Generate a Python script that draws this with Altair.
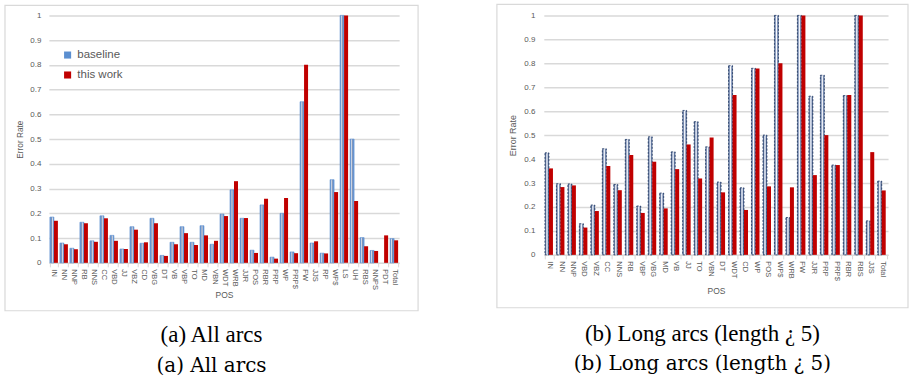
import altair as alt
import pandas as pd

SERIES = ["baseline", "this work"]

cats_a = ["IN", "NN", "NNP", "RB", "NNS", "CC", "VBD", "JJ", "VBZ", "CD", "VBG", "DT",
          "VB", "VBP", "TO", "MD", "VBN", "WDT", "WRB", "JJR", "POS", "RBR", "PRP", "WP",
          "PRP$", "FW", "JJS", "RP", "WP$", "LS", "UH", "RBS", "NNPS", "PDT", "EX", "Total"]
base_a = [0.185, 0.08, 0.059, 0.164, 0.089, 0.19, 0.111, 0.056, 0.146, 0.079, 0.18, 0.03,
          0.083, 0.146, 0.083, 0.15, 0.075, 0.197, 0.295, 0.18, 0.051, 0.234, 0.023, 0.2,
          0.044, 0.651, 0.08, 0.039, 0.336, 1.0, 0.5, 0.102, 0.05, 0.0, 0.0, 0.098]
work_a = [0.17, 0.075, 0.055, 0.16, 0.085, 0.18, 0.089, 0.056, 0.134, 0.083, 0.16, 0.028,
          0.075, 0.12, 0.072, 0.111, 0.089, 0.189, 0.33, 0.181, 0.04, 0.259, 0.017, 0.262,
          0.039, 0.8, 0.087, 0.038, 0.286, 1.0, 0.25, 0.067, 0.048, 0.111, 0.0, 0.091]

cats_b = ["IN", "NN", "NNP", "VBD", "VBZ", "CC", "NNS", "RB", "VBP", "VBG", "MD", "VB",
          "JJ", "TO", "VBN", "DT", "WDT", "CD", "WP", "POS", "WP$", "WRB", "FW", "JJR",
          "PRP", "PRP$", "RBR", "RBS", "JJS", "RP", "NNPS", "UH", "Total"]
base_b = [0.426, 0.297, 0.296, 0.13, 0.208, 0.443, 0.294, 0.482, 0.204, 0.493, 0.258, 0.43,
          0.603, 0.556, 0.451, 0.304, 0.79, 0.28, 0.779, 0.5, 1.0, 0.156, 1.0, 0.6625,
          0.75, 0.375, 0.665, 1.0, 0.142, 0.0, 0.0, 0.0, 0.308]
work_b = [0.361, 0.283, 0.29, 0.114, 0.183, 0.371, 0.27, 0.417, 0.175, 0.389, 0.194, 0.358,
          0.461, 0.319, 0.49, 0.261, 0.667, 0.1875, 0.778, 0.286, 0.8, 0.282, 1.0, 0.333,
          0.5, 0.375, 0.667, 1.0, 0.429, 0.0, 0.0, 0.0, 0.269]

y_ticks = [0, 0.1, 0.2, 0.3, 0.4, 0.5, 0.6, 0.7, 0.8, 0.9, 1.0]

captions_a = ["(a) All arcs", "(a) All arcs"]
captions_b = ["(b) Long arcs (length \u00bf 5)", "(b) Long arcs (length \u00bf 5)"]

GRAY = "#595959"
AXFONT = "Liberation Sans"
RED = "#c00000"


def stops(spec):
    return [alt.GradientStop(color=c, offset=o) for o, c in spec]


grad_a = alt.Gradient(
    gradient="linear", x1=0, x2=1, y1=0, y2=0,
    stops=stops([(0, "#5b8fd0"), (0.2, "#6f9bd6"), (0.32, "#ffffff"), (0.45, "#2a4f8f"),
                 (0.55, "#2a4f8f"), (0.68, "#ffffff"), (0.8, "#6f9bd6"), (1, "#5b8fd0")]))

grad_b = alt.Gradient(
    gradient="linear", x1=0, x2=1, y1=0, y2=0,
    stops=stops([(0, "#1f3864"), (0.25, "#8a9cc0"), (0.5, "#ffffff"), (0.75, "#8a9cc0"),
                 (1, "#1f3864")]))


def panel(cats, base, work, W, H, box, leg, base_mark, leg_base_color, caps, cap_xy,
          title_y, lab_pad, ytitle_pad, ytitle_size, lab_size):
    n = len(cats)
    df = pd.DataFrame({"POS": cats * 2,
                       "series": [SERIES[0]] * n + [SERIES[1]] * n,
                       "value": base + work})
    x = alt.X("POS:N", sort=cats, title="POS",
              scale=alt.Scale(paddingInner=0.2, paddingOuter=0.1),
              axis=alt.Axis(labelAngle=90, labelAlign="left", labelBaseline="middle",
                            labelFont=AXFONT, labelFontSize=lab_size, labelColor=GRAY,
                            labelPadding=2, domainColor="#d9d9d9", domainWidth=1,
                            tickColor="#d9d9d9", tickSize=4, tickBand="extent",
                            titleFont=AXFONT, titleFontSize=8.5, titleColor=GRAY,
                            titleFontWeight="normal", titleY=title_y,
                            titleBaseline="middle"))
    xo = alt.XOffset("series:N", scale=alt.Scale(domain=SERIES))
    y = alt.Y("value:Q", scale=alt.Scale(domain=[0, 1]), title="Error Rate",
              axis=alt.Axis(values=y_ticks, format="~g", domain=False, ticks=False,
                            gridColor="#d9d9d9", gridWidth=1.5,
                            labelFont=AXFONT, labelFontSize=8, labelColor=GRAY,
                            labelPadding=lab_pad, titleFont=AXFONT,
                            titleFontSize=ytitle_size, titleColor=GRAY,
                            titleFontWeight="normal", titlePadding=ytitle_pad))
    base_layer = alt.Chart(df).transform_filter(
        "datum.series == 'baseline' && datum.value > 0"
    ).mark_bar(**base_mark).encode(x=x, xOffset=xo, y=y)
    work_layer = alt.Chart(df).transform_filter(
        "datum.series == 'this work' && datum.value > 0"
    ).mark_bar().encode(
        x=x, xOffset=xo, y=y,
        color=alt.Color("series:N",
                        scale=alt.Scale(domain=SERIES, range=[leg_base_color, RED]),
                        legend=alt.Legend(orient="none", legendX=leg[0], legendY=leg[1],
                                          title=None, labelFont=AXFONT,
                                          labelFontSize=leg[3], labelColor=GRAY,
                                          symbolType="square", symbolSize=50,
                                          symbolStrokeWidth=0, rowPadding=leg[2],
                                          padding=0, labelOffset=4)))
    box_layer = alt.Chart(alt.Data(values=[{}])).mark_rect(
        filled=False, stroke="#d9d9d9", strokeWidth=1.2
    ).encode(x=alt.value(box[0]), x2=alt.value(box[1]),
             y=alt.value(box[2]), y2=alt.value(box[3]))
    cap1 = alt.Chart(alt.Data(values=[{}])).mark_text(
        font="Liberation Serif", fontSize=23, color="black", baseline="middle"
    ).encode(x=alt.value(cap_xy[0]), y=alt.value(cap_xy[1]), text=alt.value(caps[0]))
    cap2 = alt.Chart(alt.Data(values=[{}])).mark_text(
        font="DejaVu Serif", fontSize=20, color="black", baseline="middle"
    ).encode(x=alt.value(cap_xy[0]), y=alt.value(cap_xy[2]), text=alt.value(caps[1]))
    return alt.layer(box_layer, base_layer, work_layer, cap1, cap2).properties(
        width=W, height=H)


left = panel(cats_a, base_a, work_a, 351, 248, (-44, 370, -10, 296), (13, 34, 7, 11.5),
             dict(fill=grad_a, stroke="#5b8fd0", strokeWidth=0.6), "#5b8fd0",
             captions_a, (163, 320, 351), 32, 8, 5, 8.3, 7.5)
right = panel(cats_b, base_b, work_b, 345, 240, (-47, 365, -11, 293), (20, 35, 9, 12.5),
              dict(fill=grad_b, stroke="#1f3864", strokeWidth=0.8, strokeDash=[2, 1.5]),
              "#5a73a0", captions_b, (159, 319, 349), 36, 9, 6, 9, 7.5)

chart = alt.hconcat(left, right, spacing=77).properties(
    padding={"left": 4, "top": 3, "right": 0, "bottom": 0}
).configure_view(stroke=None)

chart.save("out.html", embed_options={"renderer": "svg", "actions": False})
